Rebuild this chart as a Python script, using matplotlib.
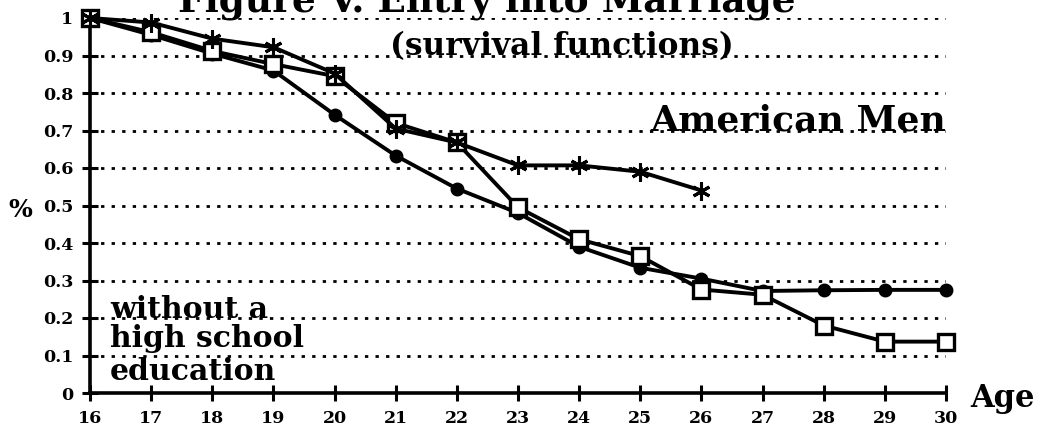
import matplotlib
matplotlib.use("Agg")
import matplotlib.pyplot as plt

ages_all = [16, 17, 18, 19, 20, 21, 22, 23, 24, 25, 26, 27, 28, 29, 30]
ages_star = [16, 17, 18, 19, 20, 21, 22, 23, 24, 25, 26]
circle_vals = [1.0, 0.955, 0.905, 0.86, 0.742, 0.633, 0.545, 0.48, 0.39, 0.334, 0.305, 0.272, 0.274, 0.275, 0.275]
square_vals = [1.0, 0.962, 0.912, 0.877, 0.845, 0.72, 0.668, 0.495, 0.41, 0.365, 0.276, 0.262, 0.18, 0.137, 0.137]
star_vals = [1.0, 0.988, 0.945, 0.922, 0.852, 0.705, 0.668, 0.607, 0.607, 0.59, 0.54]
ytick_vals = [0, 0.1, 0.2, 0.3, 0.4, 0.5, 0.6, 0.7, 0.8, 0.9, 1.0]
ytick_labels = ["0", "0.1", "0.2", "0.3", "0.4", "0.5", "0.6", "0.7", "0.8", "0.9", "1"]

FONT = "DejaVu Serif"
W, H = 1043, 434
fig = plt.figure(figsize=(W / 100, H / 100), dpi=100)
ax = fig.add_axes([90 / W, (H - 393) / H, (946 - 90) / W, (393 - 18) / H])
ax.set_xlim(16, 30)
ax.set_ylim(0, 1)

# dotted grid lines
ax.hlines(ytick_vals[1:], 16, 30, colors="black", linewidth=2.0,
          linestyles=(0, (1.2, 2.6)), zorder=1)

lw = 2.8
ax.plot(ages_all, circle_vals, color="black", lw=lw, marker="o", ms=9,
        mfc="black", mec="black", clip_on=False, zorder=4)
ax.plot(ages_all, square_vals, color="black", lw=lw, marker="s", ms=11,
        mfc="white", mec="black", mew=2.4, clip_on=False, zorder=5)
ax.plot(ages_star, star_vals, color="black", lw=lw, marker=(6, 2, 0), ms=13,
        mec="black", mew=2.2, clip_on=False, zorder=6)

for s in ["top", "right"]:
    ax.spines[s].set_visible(False)
for s in ["left", "bottom"]:
    ax.spines[s].set_linewidth(2.6)

ax.set_yticks(ytick_vals)
ax.set_yticklabels(ytick_labels)
ax.set_xticks(ages_all)
ax.set_xticklabels([str(a) for a in ages_all])
ax.tick_params(axis="both", direction="inout", length=12, width=2.2,
               labelsize=12.5, pad=6)
for lab in ax.get_xticklabels() + ax.get_yticklabels():
    lab.set_fontfamily(FONT)
    lab.set_fontweight("bold")

ax.text(23.72, 0.9, "(survival functions)", ha="center", va="baseline",
        fontsize=22.5, fontweight="bold", family=FONT, zorder=3)
ax.text(30, 0.7, "American Men", ha="right", va="baseline",
        fontsize=26, fontweight="bold", family=FONT, zorder=3)
ax.text(16.33, 0.2, "without a", ha="left", va="baseline",
        fontsize=21.5, fontweight="bold", family=FONT)
ax.text(16.33, 0.123, "high school", ha="left", va="baseline",
        fontsize=21.5, fontweight="bold", family=FONT)
ax.text(16.33, 0.035, "education", ha="left", va="baseline",
        fontsize=21.5, fontweight="bold", family=FONT)

fig.text(487 / W, 1 - 12 / H, "Figure V. Entry into Marriage", ha="center",
         va="baseline", fontsize=27, fontweight="bold", family=FONT)
fig.text(20 / W, 1 - 210 / H, "%", ha="center", va="center",
         fontsize=18, fontweight="bold", family=FONT)
fig.text(1003 / W, 1 - 398 / H, "Age", ha="center", va="center",
         fontsize=22, fontweight="bold", family=FONT)

fig.savefig("out.png", dpi=100)
